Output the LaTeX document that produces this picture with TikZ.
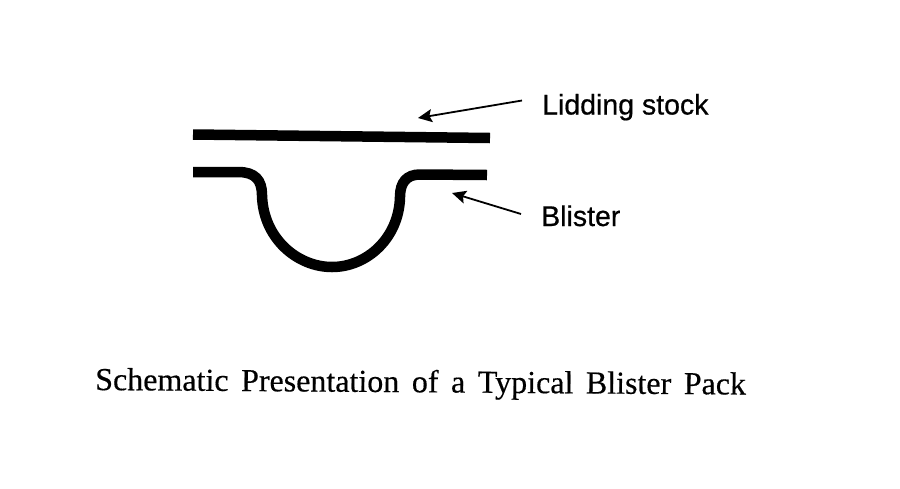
\documentclass[tikz,border=0pt]{standalone}
\usetikzlibrary{arrows.meta}
\usepackage{fontspec}
\setmainfont{Liberation Serif}
\newfontfamily\labelfont[FakeBold=0.6]{Liberation Sans}
\newfontfamily\captionfont[WordSpace=1.57,FakeBold=0.4]{Liberation Serif}
\begin{document}
\begin{tikzpicture}[
  x=1pt,y=-1pt,
  foil/.style={line width=10.5pt},
  pointer/.style={-{Stealth[length=14pt,width=13pt,inset=2.5pt]},line width=1.8pt},
  tag/.style={font=\labelfont\fontsize{28.5}{28.5}\selectfont,anchor=base west,inner sep=0pt},
  caption/.style={font=\captionfont\fontsize{32}{32}\selectfont,anchor=base west,inner sep=0pt,rotate=-0.4}
]
  \useasboundingbox (0,0) rectangle (900,488);
  \draw[foil] (193,134.5) -- (490,138);
  \draw[foil] (193,172) -- (238,172) .. controls (255,172) and (262,180) .. (262,195)
        .. controls (263,238) and (297,267) .. (332,267)
        .. controls (367,267) and (399,238) .. (400,197)
        .. controls (400,182) and (407,174.5) .. (420,174.5) -- (487,175);
  \node[tag] (lid) at (542,114.5) {Lidding stock};
  \node[tag] (blister) at (541,226) {Blister};
  \node[caption] (title) at (95,390) {Schematic Presentation of a Typical Blister Pack};
  \coordinate (lidfrom) at (522,100.5);
  \coordinate (lidto) at (418,118);
  \coordinate (blisterfrom) at (521,214);
  \coordinate (blisterto) at (452,193);
  \draw[pointer] (lidfrom) -- (lidto);
  \draw[pointer] (blisterfrom) -- (blisterto);
\end{tikzpicture}
\end{document}
